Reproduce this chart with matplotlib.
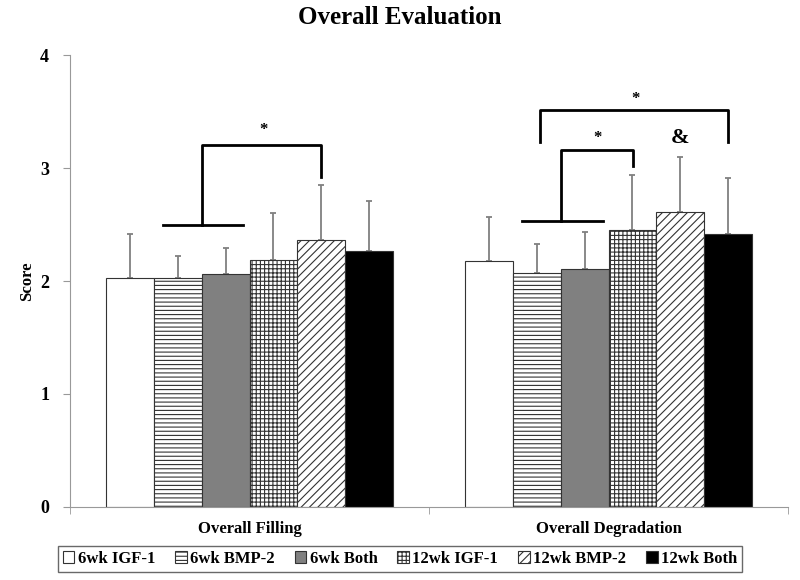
import numpy as np
import matplotlib
matplotlib.use('Agg')
import matplotlib.pyplot as plt

plt.rcParams['font.family'] = ['Liberation Serif', 'DejaVu Serif']
plt.rcParams['font.weight'] = 'bold'
plt.rcParams['hatch.linewidth'] = 0.8

categories = ['Overall Filling', 'Overall Degradation']
groups = ['6wk IGF-1', '6wk BMP-2', '6wk Both', '12wk IGF-1', '12wk BMP-2', '12wk Both']
means = [[2.03, 2.18],
         [2.03, 2.07],
         [2.06, 2.11],
         [2.19, 2.45],
         [2.36, 2.61],
         [2.27, 2.42]]
upper = [[2.42, 2.57],
         [2.22, 2.33],
         [2.29, 2.43],
         [2.60, 2.94],
         [2.85, 3.10],
         [2.71, 2.91]]
colors = ['white', 'white', '#808080', 'white', 'white', 'black']
hatches = ['', '----', '', '++++', '////', '']

fig = plt.figure(figsize=(8, 5.8), dpi=100)
ax = fig.add_axes([0.0875, 0.126, 0.8975, 0.779])

x = np.arange(len(categories))
w = 0.8 / len(groups)
for i, g in enumerate(groups):
    pos = x + (i - 2.5) * w
    m = np.array(means[i])
    err = np.array(upper[i]) - m
    ax.bar(pos, m, w, color=colors[i], hatch=hatches[i], edgecolor='#333333',
           linewidth=0.8, label=g, zorder=2)
    ax.errorbar(pos, m, yerr=[np.zeros_like(err), err], fmt='none',
                ecolor='#808080', elinewidth=1.3, capsize=2.5, capthick=1.3, zorder=1)

# significance brackets
lw = 2.0
c = x[0]
ax.plot([c - 2 * w + 0.025, c - 0.018], [2.50, 2.50], color='black', lw=lw)
ax.plot([c - w, c - w, c + 1.5 * w, c + 1.5 * w], [2.50, 3.20, 3.20, 2.92], color='black', lw=lw)
ax.text(c + 0.04, 3.34, '*', ha='center', va='center', fontsize=12)

c = x[1]
ax.plot([c - 1.5 * w - 0.04, c - 0.014], [2.53, 2.53], color='black', lw=lw)
ax.plot([c - 1.0 * w, c - 1.0 * w, c + 0.069, c + 0.069], [2.53, 3.16, 3.16, 3.02], color='black', lw=lw)
ax.text(c - 0.031, 3.27, '*', ha='center', va='center', fontsize=12)
ax.plot([c - 1.5 * w + 0.01, c - 1.5 * w + 0.01, c + 2.5 * w, c + 2.5 * w], [3.23, 3.51, 3.51, 3.23],
        color='black', lw=lw)
ax.text(c + 0.075, 3.61, '*', ha='center', va='center', fontsize=12)
ax.text(c + 1.5 * w, 3.27, '&', ha='center', va='center', fontsize=16)

ax.set_xlim(-0.5, 1.5)
ax.set_ylim(0, 4)
ax.set_yticks([0, 1, 2, 3, 4])
ax.set_xticks(x)
ax.set_xticklabels(categories, fontsize=12)
ax.set_xticks([-0.5, 0.5, 1.5], minor=True)
ax.tick_params(axis='x', which='major', length=0, pad=10)
ax.tick_params(axis='x', which='minor', length=5, color='#999999')
ax.tick_params(axis='y', length=5, color='#999999', labelsize=13, pad=10)
ax.set_ylabel('Score', fontsize=12, fontweight='bold', labelpad=4)
for s in ['top', 'right']:
    ax.spines[s].set_visible(False)
for s in ['left', 'bottom']:
    ax.spines[s].set_color('#999999')

fig.suptitle('Overall Evaluation', fontsize=18, fontweight='bold', y=0.99)

leg = fig.legend(loc='center', bbox_to_anchor=(0.5, 0.036), ncol=6, fontsize=12,
                 handlelength=0.7, handleheight=0.7, handletextpad=0.2,
                 columnspacing=1.2, fancybox=False, borderpad=0.3, frameon=True)
leg.get_frame().set_edgecolor('#444444')
leg.get_frame().set_linewidth(1.0)

fig.savefig('out.png', dpi=100)
